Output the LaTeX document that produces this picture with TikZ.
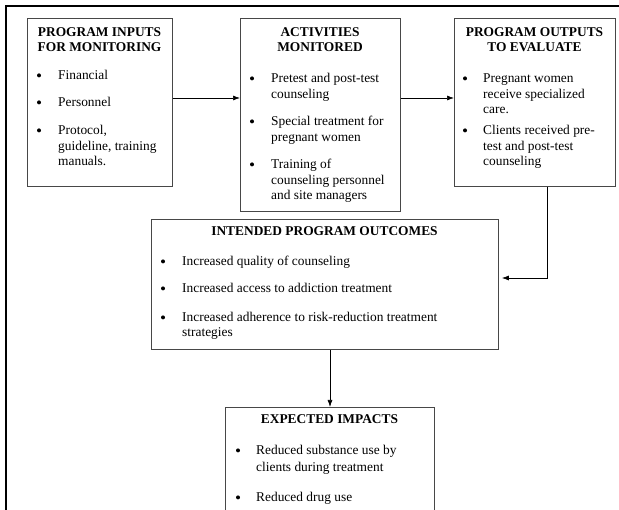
\documentclass[tikz,border=0pt]{standalone}
\usepackage{fontspec}
\setmainfont{Liberation Serif}
\usetikzlibrary{arrows.meta}
\begin{document}
\begin{tikzpicture}[x=1pt,y=-1pt,
  box/.style={draw=black!72, line width=0.9pt, inner sep=0pt, anchor=north west},
  txt/.style={inner sep=0pt, anchor=base west, font=\fontsize{13.4}{15}\selectfont},
  hd/.style={inner sep=0pt, anchor=base, font=\fontsize{13.4}{15}\selectfont\bfseries},
  bul/.style={circle, fill=black, inner sep=0pt, minimum size=4pt, yshift=4.6pt},
  conn/.style={line width=0.7pt, -{Latex[length=7pt,width=5pt]}}]
\useasboundingbox (0,0) rectangle (619,510);
\clip (0,0) rectangle (619,510);
% outer frame
\draw[line width=2pt] (6,6) rectangle (660,560);
% boxes
\node[box, minimum width=145pt, minimum height=168pt] (b1) at (27,18) {};
\node[box, minimum width=160pt, minimum height=193pt] (b2) at (240,18) {};
\node[box, minimum width=161pt, minimum height=168pt] (b3) at (454,18) {};
\node[box, minimum width=347pt, minimum height=130pt] (b4) at (151,219) {};
\node[box, minimum width=209pt, minimum height=130pt] (b5) at (225,407) {};
% box 1
\node[hd] (h1a) at (99.5,37) {PROGRAM INPUTS};
\node[hd] (h1b) at (99.5,52) {FOR MONITORING};
\node[bul] (p1a) at (39,80) {};
\node[txt] (t1a) at (58,80) {Financial};
\node[bul] (p1b) at (39,107) {};
\node[txt] (t1b) at (58,107) {Personnel};
\node[bul] (p1c) at (39,135) {};
\node[txt] (t1c) at (58,135) {Protocol,};
\node[txt] (t1d) at (58,150.5) {guideline, training};
\node[txt] (t1e) at (58,166) {manuals.};
% box 2
\node[hd] (h2a) at (320,37) {ACTIVITIES};
\node[hd] (h2b) at (320,52) {MONITORED};
\node[bul] (p2a) at (252,83) {};
\node[txt] (t2a) at (271,83) {Pretest and post-test};
\node[txt] (t2b) at (271,98.5) {counseling};
\node[bul] (p2b) at (252,126) {};
\node[txt] (t2c) at (271,126) {Special treatment for};
\node[txt] (t2d) at (271,141.5) {pregnant women};
\node[bul] (p2c) at (252,169) {};
\node[txt] (t2e) at (271,169) {Training of};
\node[txt] (t2f) at (271,184.5) {counseling personnel};
\node[txt] (t2g) at (271,200) {and site managers};
% box 3
\node[hd] (h3a) at (534.5,37) {PROGRAM OUTPUTS};
\node[hd] (h3b) at (534.5,52) {TO EVALUATE};
\node[bul] (p3a) at (465,83) {};
\node[txt] (t3a) at (483,83) {Pregnant women};
\node[txt] (t3b) at (483,98.5) {receive specialized};
\node[txt] (t3c) at (483,114) {care.};
\node[bul] (p3b) at (465,135) {};
\node[txt] (t3d) at (483,135) {Clients received pre-};
\node[txt] (t3e) at (483,150.5) {test and post-test};
\node[txt] (t3f) at (483,166) {counseling};
% box 4
\node[hd] (h4) at (324.5,236) {INTENDED PROGRAM OUTCOMES};
\node[bul] (p4a) at (163,266) {};
\node[txt] (t4a) at (182,266) {Increased quality of counseling};
\node[bul] (p4b) at (163,293) {};
\node[txt] (t4b) at (182,293) {Increased access to addiction treatment};
\node[bul] (p4c) at (163,322) {};
\node[txt] (t4c) at (182,322) {Increased adherence to risk-reduction treatment};
\node[txt] (t4d) at (182,337) {strategies};
% box 5
\node[hd] (h5) at (329.5,424) {EXPECTED IMPACTS};
\node[bul] (p5a) at (238,455) {};
\node[txt] (t5a) at (256,455) {Reduced substance use by};
\node[txt] (t5b) at (256,471.5) {clients during treatment};
\node[bul] (p5b) at (238,502) {};
\node[txt] (t5c) at (256,502) {Reduced drug use};
% connectors
\coordinate (r1) at (0,98);
\coordinate (k) at (547,278);
\coordinate (v) at (330,0);
\draw[conn] (b1.east |- r1) -- (b2.west |- r1);
\draw[conn] (b2.east |- r1) -- (b3.west |- r1);
\draw[conn] (b3.south -| k) -- (k) -- ([xshift=3pt]b4.east |- k);
\draw[conn] (b4.south -| v) -- (b5.north -| v);
\end{tikzpicture}
\end{document}
